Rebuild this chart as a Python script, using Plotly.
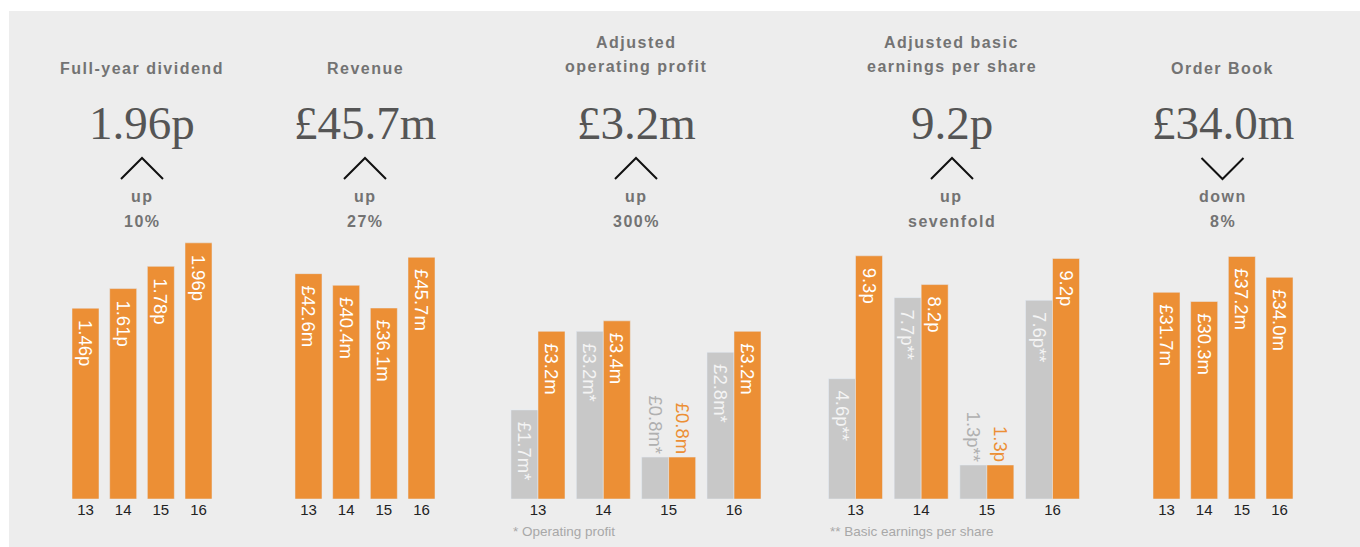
import plotly.graph_objects as go

W, H = 1360, 547

# ---------------- data ----------------
years = ["13", "14", "15", "16"]

dividend = [1.46, 1.61, 1.78, 1.96]
dividend_lbl = ["1.46p", "1.61p", "1.78p", "1.96p"]

revenue = [42.6, 40.4, 36.1, 45.7]
revenue_lbl = ["£42.6m", "£40.4m", "£36.1m", "£45.7m"]

op_profit = [1.7, 3.2, 0.8, 2.8]
op_profit_lbl = ["£1.7m*", "£3.2m*", "£0.8m*", "£2.8m*"]
adj_op_profit = [3.2, 3.4, 0.8, 3.2]
adj_op_profit_lbl = ["£3.2m", "£3.4m", "£0.8m", "£3.2m"]

basic_eps = [4.6, 7.7, 1.3, 7.6]
basic_eps_lbl = ["4.6p**", "7.7p**", "1.3p**", "7.6p**"]
adj_eps = [9.3, 8.2, 1.3, 9.2]
adj_eps_lbl = ["9.3p", "8.2p", "1.3p", "9.2p"]

order_book = [31.7, 30.3, 37.2, 34.0]
order_book_lbl = ["£31.7m", "£30.3m", "£37.2m", "£34.0m"]

titles = [["Full-year dividend"], ["Revenue"], ["Adjusted", "operating profit"],
          ["Adjusted basic", "earnings per share"], ["Order Book"]]
headline = ["1.96p", "£45.7m", "£3.2m", "9.2p", "£34.0m"]
direction = ["up", "up", "up", "up", "down"]
change = ["10%", "27%", "300%", "sevenfold", "8%"]
footnotes = ["* Operating profit", "** Basic earnings per share"]

# ---------------- style ----------------
ORANGE = "#EC8F35"
GREY_BAR = "#C8C8C8"
PANEL = "#EDEDED"
TXT = "#737373"
SANS = "Arial, 'Liberation Sans', sans-serif"
SERIF = "Georgia, 'Liberation Serif', serif"
PAD = "\u00a0\u2009"  # gap between bar top and inside label
LBL_SIZE = 18.5


def px(x):
    return x / W


def py(y):
    return 1 - y / H


def inside(lbls, pos=None):
    out = []
    for j, t in enumerate(lbls):
        if pos is not None and pos[j] == "outside":
            out.append(t)
        else:
            out.append(PAD + t)
    return out


# panel geometry (pixels): first category centre, category spacing, y scale (px per unit)
panels = [
    dict(c0=85.5, s=37.67, k=130.7),
    dict(c0=308.5, s=37.67, k=5.29),
    dict(c0=538.0, s=65.33, k=52.4),
    dict(c0=855.5, s=65.67, k=26.15),
    dict(c0=1166.5, s=37.67, k=6.52),
]
centers = [142, 365, 636, 952, 1222.5]
BASE, TOP = 499, 240

fig = go.Figure()
layout = dict()
for i, p in enumerate(panels):
    n = "" if i == 0 else str(i + 1)
    x0 = p["c0"] - p["s"] / 2
    x1 = x0 + 4 * p["s"]
    layout["xaxis" + n] = dict(
        domain=[px(x0), px(x1)], anchor="y" + n, type="category",
        range=[-0.5, 3.5], showgrid=False, zeroline=False, showline=False,
        ticks="", tickfont=dict(family=SANS, size=15, color="#222222"),
        fixedrange=True)
    layout["yaxis" + n] = dict(
        domain=[py(BASE), py(TOP)], anchor="x" + n,
        range=[0, (BASE - TOP) / p["k"]], visible=False, fixedrange=True)

single_w = 27 / 37.67


def single(vals, lbls, n):
    fig.add_trace(go.Bar(
        x=years, y=vals, text=inside(lbls), width=single_w, marker_color=ORANGE,
        textposition="inside", insidetextanchor="end", textangle=90,
        insidetextfont=dict(family=SANS, size=LBL_SIZE, color="white"),
        constraintext="none", cliponaxis=False, hoverinfo="skip",
        xaxis="x" + n, yaxis="y" + n, showlegend=False))


def grouped(grey_vals, grey_lbls, or_vals, or_lbls, n, s):
    w = 27 / s
    pos = ["inside", "inside", "outside", "inside"]
    gcol = ["#F4F4F4", "#F4F4F4", "#B0B0B0", "#F4F4F4"]
    ocol = ["white", "white", ORANGE, "white"]
    fig.add_trace(go.Bar(
        x=years, y=grey_vals, text=inside(grey_lbls, pos), width=w, offset=-w,
        marker_color=GREY_BAR, textposition=pos, insidetextanchor="end",
        textangle=90, textfont=dict(family=SANS, size=LBL_SIZE, color=gcol),
        constraintext="none", cliponaxis=False, hoverinfo="skip",
        xaxis="x" + n, yaxis="y" + n, showlegend=False))
    fig.add_trace(go.Bar(
        x=years, y=or_vals, text=inside(or_lbls, pos), width=w, offset=0,
        marker_color=ORANGE, textposition=pos, insidetextanchor="end",
        textangle=90, textfont=dict(family=SANS, size=LBL_SIZE, color=ocol),
        constraintext="none", cliponaxis=False, hoverinfo="skip",
        xaxis="x" + n, yaxis="y" + n, showlegend=False))


single(dividend, dividend_lbl, "")
single(revenue, revenue_lbl, "2")
grouped(op_profit, op_profit_lbl, adj_op_profit, adj_op_profit_lbl, "3", panels[2]["s"])
grouped(basic_eps, basic_eps_lbl, adj_eps, adj_eps_lbl, "4", panels[3]["s"])
single(order_book, order_book_lbl, "5")

annotations = []
shapes = [dict(type="rect", xref="paper", yref="paper", x0=px(9), x1=1, y0=0, y1=py(11),
               fillcolor=PANEL, line=dict(width=0), layer="below")]


def ann(text, x, y, font, **kw):
    annotations.append(dict(text=text, x=px(x), y=py(y), xref="paper", yref="paper",
                            xanchor="center", yanchor="middle", showarrow=False,
                            font=font, **kw))


bold = dict(family=SANS, size=16, color=TXT, weight="bold")
for i, c in enumerate(centers):
    t = titles[i]
    ys = [68.5] if len(t) == 1 else [42.5, 66.5]
    for line, yy in zip(t, ys):
        ann('<span style="letter-spacing:1.5px">' + line + '</span>', c, yy, bold)
    ann(headline[i], c, 122.5, dict(family=SERIF, size=47, color="#555555"))
    ann('<span style="letter-spacing:1.5px">' + direction[i] + '</span>', c, 196.5, bold)
    ann('<span style="letter-spacing:1.5px">' + change[i] + '</span>', c, 221.5, bold)
    if direction[i] == "up":
        path = f"M {px(c-21)} {py(179)} L {px(c)} {py(158)} L {px(c+21)} {py(179)}"
    else:
        path = f"M {px(c-21)} {py(158)} L {px(c)} {py(179)} L {px(c+21)} {py(158)}"
    shapes.append(dict(type="path", xref="paper", yref="paper", path=path,
                       line=dict(color="#111111", width=2)))

foot_font = dict(family=SANS, size=13.5, color="#A8A8A8")
annotations.append(dict(text=footnotes[0], x=px(511), y=py(531.5), xref="paper", yref="paper",
                        xanchor="left", yanchor="middle", showarrow=False, font=foot_font))
annotations.append(dict(text=footnotes[1], x=px(828), y=py(531.5), xref="paper", yref="paper",
                        xanchor="left", yanchor="middle", showarrow=False, font=foot_font))

fig.update_layout(
    width=W, height=H, margin=dict(l=0, r=0, t=0, b=0),
    paper_bgcolor="white", plot_bgcolor="rgba(0,0,0,0)",
    barmode="overlay", showlegend=False,
    annotations=annotations, shapes=shapes, **layout)

fig.write_html("out.html", config={"displayModeBar": False},
               post_script="document.body.style.margin='0';document.body.style.overflow='hidden';")
